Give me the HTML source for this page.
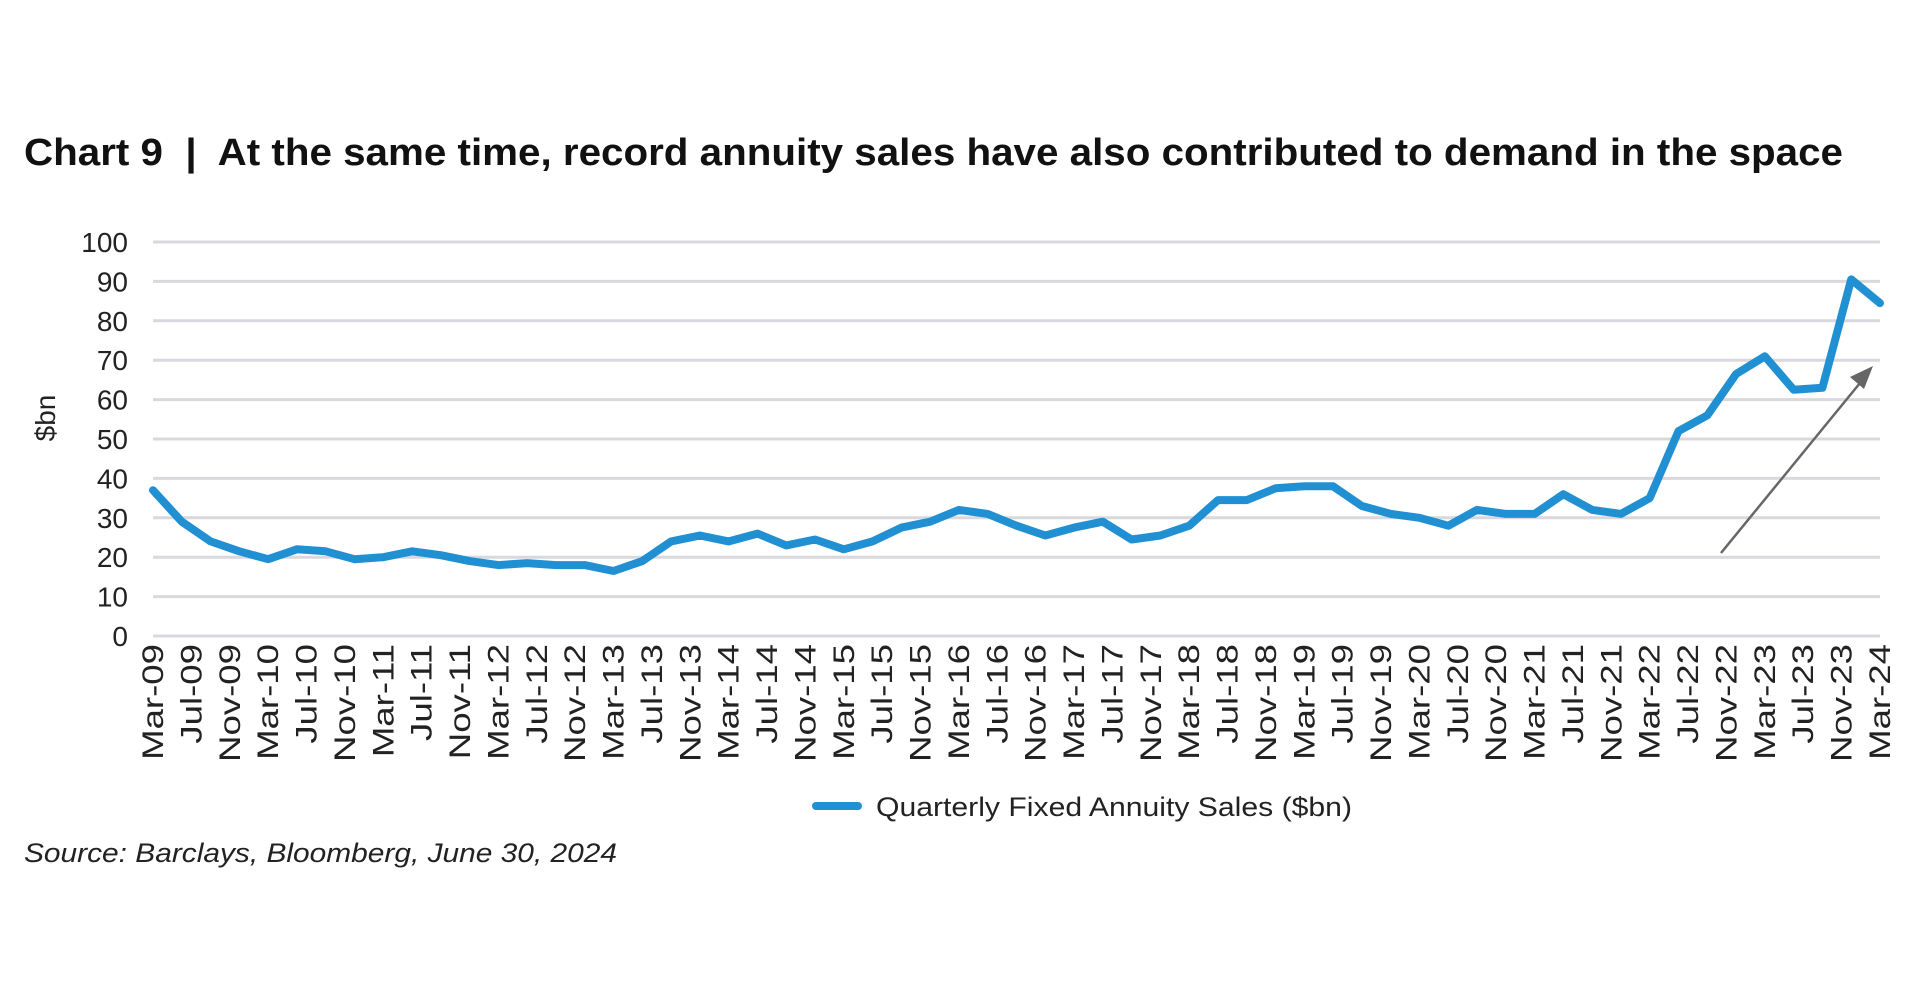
<!DOCTYPE html>
<html><head><meta charset="utf-8"><style>
html,body{margin:0;padding:0;background:#fff;}
svg{display:block;font-family:"Liberation Sans",sans-serif;}
</style></head><body>
<svg width="1913" height="1000" viewBox="0 0 1913 1000" xmlns="http://www.w3.org/2000/svg">
<text x="24" y="165" font-size="38" font-weight="bold" fill="#111" textLength="1819" lengthAdjust="spacingAndGlyphs" xml:space="preserve">Chart 9  |  At the same time, record annuity sales have also contributed to demand in the space</text>
<g id="grid" stroke="#d8d8de" stroke-width="3"></g>
<g id="yl" font-size="28" fill="#222" text-anchor="end"></g>
<text transform="translate(55,418) rotate(-90)" font-size="28" fill="#222" text-anchor="middle">$bn</text>
<g id="xl" font-size="30" fill="#222" text-anchor="end"></g>
<polyline id="ser" fill="none" stroke="#2190d3" stroke-width="8" stroke-linejoin="round" stroke-linecap="round"/>
<line x1="1721" y1="553" x2="1860" y2="383" stroke="#666" stroke-width="2.5"/>
<polygon points="1873,366 1850,377 1864,389" fill="#666"/>
<line x1="816" y1="806" x2="858" y2="806" stroke="#2190d3" stroke-width="8" stroke-linecap="round"/>
<text x="876" y="816" font-size="27" fill="#222" textLength="476" lengthAdjust="spacingAndGlyphs">Quarterly Fixed Annuity Sales ($bn)</text>
<text x="24" y="862" font-size="27" font-style="italic" fill="#222" textLength="593" lengthAdjust="spacingAndGlyphs">Source: Barclays, Bloomberg, June 30, 2024</text>
</svg>
<script>
var Y0=636,K=3.94;
var gs="",ys="";
for(var v=0;v<=100;v+=10){var y=(Y0-v*K).toFixed(1);gs+='<line x1="153" x2="1880" y1="'+y+'" y2="'+y+'"/>';ys+='<text x="128" y="'+(Y0-v*K+10).toFixed(1)+'">'+v+'</text>';}
document.getElementById("grid").innerHTML=gs;document.getElementById("yl").innerHTML=ys;
var d=[37,29,24,21.5,19.5,22,21.5,19.5,20,21.5,20.5,19,18,18.5,18,18,16.5,19,24,25.5,24,26,23,24.5,22,24,27.5,29,32,31,28,25.5,27.5,29,24.5,25.5,28,34.5,34.5,37.5,38,38,33,31,30,28,32,31,31,36,32,31,35,52,56,66.5,71,62.5,63,90.5,84.5];
var pts=d.map(function(v,i){return (153+i*1727/60).toFixed(1)+","+(Y0-v*K).toFixed(1)}).join(" ");
document.getElementById("ser").setAttribute("points",pts);
var m=["Mar","Jul","Nov"],g=document.getElementById("xl"),s="";
for(var i=0;i<46;i++){var yr=9+Math.floor(i/3);var lab=m[i%3]+"-"+(yr<10?"0"+yr:yr);var x=153+i*1727/45+10;
s+='<text transform="translate('+x.toFixed(1)+',644) rotate(-90) scale(1.22,1)">'+lab+'</text>';}
g.innerHTML=s;
</script>
</body></html>
